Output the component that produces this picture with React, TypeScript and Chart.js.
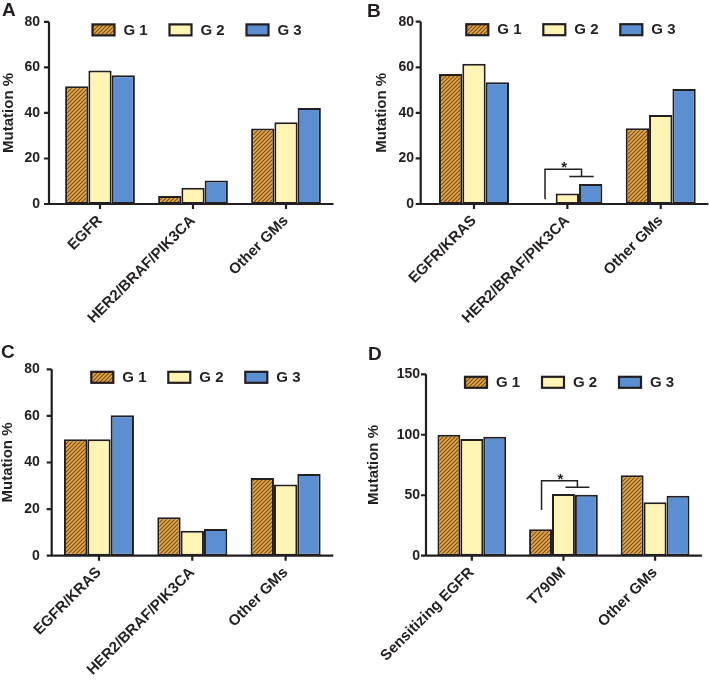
import React, { useEffect, useRef } from "react";
import { Chart, registerables } from "chart.js";

Chart.register(...registerables);

const FONT = "'Liberation Sans', Arial, Helvetica, sans-serif";
const INK = "#231f20";

// ---------- data ----------
const groups = ["G 1", "G 2", "G 3"];

const catsA = ["EGFR", "HER2/BRAF/PIK3CA", "Other GMs"];
const g1A = [51.7, 3.5, 33.2];
const g2A = [58.6, 7.1, 35.9];
const g3A = [56.6, 10.3, 42.2];

const catsB = ["EGFR/KRAS", "HER2/BRAF/PIK3CA", "Other GMs"];
const g1B = [57.1, 0, 33.2];
const g2B = [61.6, 4.6, 39.1];
const g3B = [53.4, 8.8, 50.5];

const catsC = ["EGFR/KRAS", "HER2/BRAF/PIK3CA", "Other GMs"];
const g1C = [50.0, 16.5, 33.3];
const g2C = [50.0, 10.7, 30.6];
const g3C = [60.3, 11.5, 35.1];

const catsD = ["Sensitizing EGFR", "T790M", "Other GMs"];
const g1D = [100, 21.9, 66.5];
const g2D = [96.4, 51.1, 44.3];
const g3D = [98.4, 50.5, 49.6];

const ticks80 = [0, 20, 40, 60, 80];
const ticks150 = [0, 50, 100, 150];

// significance brackets (category index, values in % units)
const sigB = { category: 1, top: 15.2, lower: 12.1, base: 2.1, label: "*" };
const sigD = { category: 1, top: 62.0, lower: 56.6, base: 37.8, label: "*" };

// ---------- layout ----------
type Panel = {
  letter: string;
  x: number; y: number; w: number; h: number;
  cats: string[];
  series: number[][];
  ticks: number[];
  left: number; right: number; top: number; bottom: number;
  gap: number; titlePad: number; tickPad: number;
  sig: typeof sigB | null;
  lx: number; ly: number;
};

const panels: Panel[] = [
  { letter: "A", x: 0, y: 0, w: 354, h: 330, cats: catsA, series: [g1A, g2A, g3A], ticks: ticks80,
    left: 53.5, right: 21.5, top: 17, bottom: 126, gap: 4.5, titlePad: 1.5, tickPad: 13.5, sig: null, lx: 2, ly: 0 },
  { letter: "B", x: 354, y: 0, w: 355, h: 330, cats: catsB, series: [g1B, g2B, g3B], ticks: ticks80,
    left: 73.3, right: 1.6, top: 16.7, bottom: 126, gap: 6.6, titlePad: 20.5, tickPad: 13.3, sig: sigB, lx: 367, ly: 1 },
  { letter: "C", x: 0, y: 330, w: 354, h: 352, cats: catsC, series: [g1C, g2C, g3C], ticks: ticks80,
    left: 52.3, right: 21.7, top: 39.3, bottom: 126.3, gap: 0.6, titlePad: 0, tickPad: 12.4, sig: null, lx: 1, ly: 342 },
  { letter: "D", x: 354, y: 330, w: 355, h: 352, cats: catsD, series: [g1D, g2D, g3D], ticks: ticks150,
    left: 72, right: 8.1, top: 44.3, bottom: 126.3, gap: 0, titlePad: 12.2, tickPad: 6, sig: sigD, lx: 368, ly: 344 },
];

function makeHatch(): CanvasPattern | string {
  const s = 4;
  const c = document.createElement("canvas");
  c.width = s;
  c.height = s;
  const g = c.getContext("2d");
  if (!g) return "#d49a42";
  g.fillStyle = "#e2a84c";
  g.fillRect(0, 0, s, s);
  g.strokeStyle = "#7a4a10";
  g.lineWidth = 1.1;
  g.beginPath();
  g.moveTo(0, s); g.lineTo(s, 0);
  g.moveTo(-1, 1); g.lineTo(1, -1);
  g.moveTo(s - 1, s + 1); g.lineTo(s + 1, s - 1);
  g.stroke();
  return g.createPattern(c, "repeat") || "#d49a42";
}

const gpPlugin = {
  id: "gpDecor",
  afterDatasetsDraw(chart: any, _args: any, opts: any) {
    const p: Panel = opts.panel;
    const { ctx, chartArea: a, scales } = chart;
    const ax = a.left - p.gap;
    ctx.save();
    ctx.strokeStyle = INK;
    ctx.lineWidth = 2.2;
    ctx.beginPath();
    ctx.moveTo(ax, a.top);
    ctx.lineTo(ax, a.bottom);
    ctx.moveTo(ax - 1, a.bottom);
    ctx.lineTo(a.right + 1, a.bottom);
    for (const t of scales.y.ticks) {
      const y = scales.y.getPixelForValue(t.value);
      ctx.moveTo(ax - 5, y);
      ctx.lineTo(ax, y);
    }
    for (let i = 0; i < chart.data.labels.length; i++) {
      const x = scales.x.getPixelForValue(i);
      ctx.moveTo(x, a.bottom);
      ctx.lineTo(x, a.bottom + 5);
    }
    ctx.stroke();

    const sig = p.sig;
    if (sig) {
      const m0 = chart.getDatasetMeta(0).data[sig.category];
      const m1 = chart.getDatasetMeta(1).data[sig.category];
      const m2 = chart.getDatasetMeta(2).data[sig.category];
      const x0 = m0.x + 1;
      const xl = m1.x + 2;
      const xr = m2.x + 3;
      const xm = (xl + xr) / 2;
      const yTop = scales.y.getPixelForValue(sig.top);
      const yLow = scales.y.getPixelForValue(sig.lower);
      const yBase = scales.y.getPixelForValue(sig.base);
      ctx.lineWidth = 1.5;
      ctx.beginPath();
      ctx.moveTo(x0, yBase);
      ctx.lineTo(x0, yTop);
      ctx.lineTo(xm, yTop);
      ctx.lineTo(xm, yLow);
      ctx.moveTo(xl, yLow);
      ctx.lineTo(xr, yLow);
      ctx.stroke();
      ctx.fillStyle = INK;
      ctx.font = `bold 15px ${FONT}`;
      ctx.textAlign = "center";
      ctx.textBaseline = "alphabetic";
      ctx.fillText(sig.label, (x0 + xm) / 2 + 1, yTop + 3);
    }

    // legend
    const lx0 = a.left + 39;
    const yc = a.top + 8;
    ctx.font = `bold 15px ${FONT}`;
    ctx.textAlign = "left";
    ctx.textBaseline = "middle";
    chart.data.datasets.forEach((ds: any, i: number) => {
      const bx = lx0 + i * 77;
      ctx.fillStyle = ds.backgroundColor;
      ctx.fillRect(bx, yc - 5.5, 22, 11);
      ctx.lineWidth = 2.2;
      ctx.strokeStyle = INK;
      ctx.strokeRect(bx, yc - 5.5, 22, 11);
      ctx.fillStyle = INK;
      ctx.fillText(ds.label, bx + 31, yc + 0.5);
    });
    ctx.restore();
  },
};

function PanelChart({ p }: { p: Panel }) {
  const ref = useRef<HTMLCanvasElement | null>(null);
  useEffect(() => {
    if (!ref.current) return;
    const hatch = makeHatch();
    const fills = [hatch, "#fff4b3", "#5b8fd2"];
    const chart = new Chart(ref.current, {
      type: "bar",
      data: {
        labels: p.cats,
        datasets: p.series.map((s, i) => ({
          label: groups[i],
          data: s,
          backgroundColor: fills[i] as any,
          borderColor: INK,
          borderWidth: 2,
          borderSkipped: false,
          categoryPercentage: 0.75,
          barPercentage: 1,
        })),
      },
      options: {
        responsive: false,
        animation: false,
        devicePixelRatio: 1,
        layout: { padding: { top: p.top, right: p.right, left: 0, bottom: 0 } },
        plugins: {
          legend: { display: false },
          tooltip: { enabled: false },
          gpDecor: { panel: p },
        } as any,
        scales: {
          x: {
            type: "category",
            offset: true,
            grid: { display: false, drawTicks: false },
            border: { display: false },
            ticks: {
              autoSkip: false,
              maxRotation: 45,
              minRotation: 45,
              padding: 8,
              color: INK,
              font: { family: FONT, size: 15, weight: "bold" },
            },
            afterFit: (s: any) => { s.height = p.bottom; },
          },
          y: {
            type: "linear",
            min: p.ticks[0],
            max: p.ticks[p.ticks.length - 1],
            grid: { display: false, drawTicks: false },
            border: { display: false },
            afterBuildTicks: (s: any) => { s.ticks = p.ticks.map((v) => ({ value: v })); },
            ticks: {
              padding: p.tickPad,
              color: INK,
              font: { family: FONT, size: 14, weight: "bold" },
            },
            title: {
              display: true,
              text: "Mutation %",
              color: INK,
              padding: { top: p.titlePad, bottom: 0 },
              font: { family: FONT, size: 15, weight: "bold", lineHeight: 1 },
            },
            afterFit: (s: any) => { s.width = p.left; },
          },
        },
      } as any,
      plugins: [gpPlugin as any],
    });
    return () => chart.destroy();
  }, [p]);
  return (
    <canvas
      ref={ref}
      width={p.w}
      height={p.h}
      style={{ position: "absolute", left: p.x, top: p.y, width: p.w, height: p.h }}
    />
  );
}

export default function App() {
  return (
    <div style={{ position: "absolute", left: 0, top: 0, width: 709, height: 682, background: "#fff", overflow: "hidden" }}>
      {panels.map((p) => (
        <PanelChart key={p.letter} p={p} />
      ))}
      {panels.map((p) => (
        <div
          key={"l" + p.letter}
          style={{
            position: "absolute",
            left: p.lx,
            top: p.ly,
            font: `bold 19px ${FONT}`,
            lineHeight: "19px",
            color: INK,
          }}
        >
          {p.letter}
        </div>
      ))}
    </div>
  );
}
